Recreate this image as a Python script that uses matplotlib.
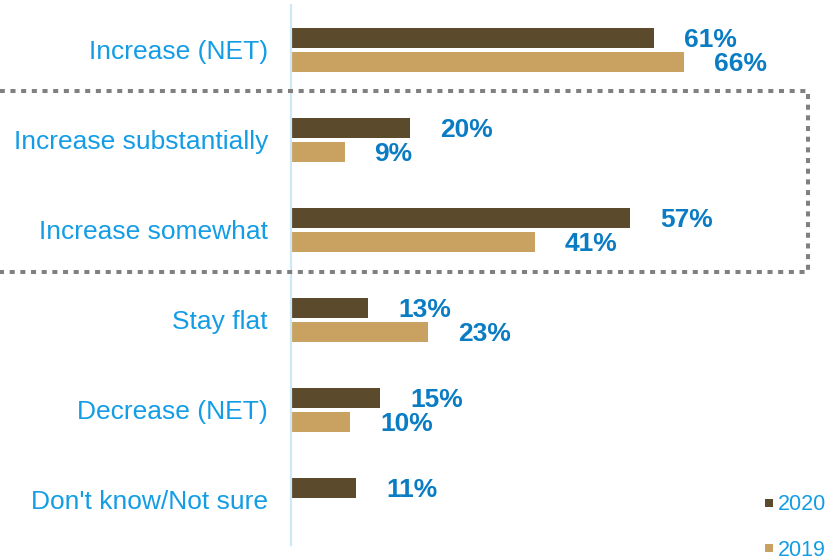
import matplotlib
matplotlib.use("Agg")
import matplotlib.pyplot as plt
import numpy as np
from matplotlib.patches import Rectangle

plt.rcParams["font.family"] = ["Liberation Sans", "DejaVu Sans"]

categories = ["Increase (NET)", "Increase substantially", "Increase somewhat",
              "Stay flat", "Decrease (NET)", "Don't know/Not sure"]
share_2020 = [61, 20, 57, 13, 15, 11]
share_2019 = [66, 9, 41, 23, 10, np.nan]
series_names = ["2020", "2019"]

COL_2020 = "#5B4A2B"
COL_2019 = "#C9A261"
CAT_BLUE = "#149DE6"
VAL_BLUE = "#0A7CC4"

W, H, DPI = 837, 559, 100
fig = plt.figure(figsize=(W / DPI, H / DPI), dpi=DPI)

# axes in pixel terms: value axis at x=291, ~5.95 px per percentage point
px_per_unit = 5.95
ax_left, ax_top, ax_bottom = 291, 5, 545
ax = fig.add_axes([ax_left / W, 1 - ax_bottom / H,
                   (W - ax_left) / W, (ax_bottom - ax_top) / H])
ax.set_xlim(0, (W - ax_left) / px_per_unit)
ax.set_ylim(len(categories) - 0.5, -0.5)

y = np.arange(len(categories))
bar_h = 0.23
off = 0.133
ax.barh(y - off, share_2020, height=bar_h, color=COL_2020, edgecolor="none")
ax.barh(y + off, share_2019, height=bar_h, color=COL_2019, edgecolor="none")

label_gap = 30 / px_per_unit
text_drop = 0.022  # nudge value labels a touch below the bar centre
for yi, v in zip(y, share_2020):
    ax.text(v + label_gap, yi - off + text_drop, f"{v:.0f}%", ha="left",
            va="center", fontsize=19, fontweight="bold", color=VAL_BLUE)
for yi, v in zip(y, share_2019):
    if np.isnan(v):
        continue
    ax.text(v + label_gap, yi + off + text_drop, f"{v:.0f}%", ha="left",
            va="center", fontsize=19, fontweight="bold", color=VAL_BLUE)

ax.set_yticks(y)
ax.set_yticklabels(categories, fontsize=19, color=CAT_BLUE)
ax.tick_params(axis="y", length=0, pad=16.5)
ax.set_xticks([])
for side in ["top", "right", "bottom"]:
    ax.spines[side].set_visible(False)
ax.spines["left"].set_color("#CDE8F8")
ax.spines["left"].set_linewidth(1.6)
ax.patch.set_alpha(0)

# dotted box around the two "increase" sub-rows
box = Rectangle((-6 / W, 1 - 272 / H), (808 + 6) / W, (272 - 91) / H,
                transform=fig.transFigure, fill=False, edgecolor="#808080",
                linewidth=2.9, linestyle=(0, (1.25, 1.4)), zorder=0)
box.set_capstyle("butt")
fig.patches.append(box)

# legend in the lower-right corner
for name, col, ly in zip(series_names, [COL_2020, COL_2019], [503, 548]):
    fig.patches.append(Rectangle((765 / W, 1 - (ly + 4) / H), 8 / W, 8 / H,
                                 transform=fig.transFigure, facecolor=col,
                                 edgecolor="none"))
    fig.text(778 / W, 1 - (ly + 2) / H, name, ha="left", va="center",
             fontsize=15.5, color=CAT_BLUE)

fig.savefig("out.png", dpi=DPI)
